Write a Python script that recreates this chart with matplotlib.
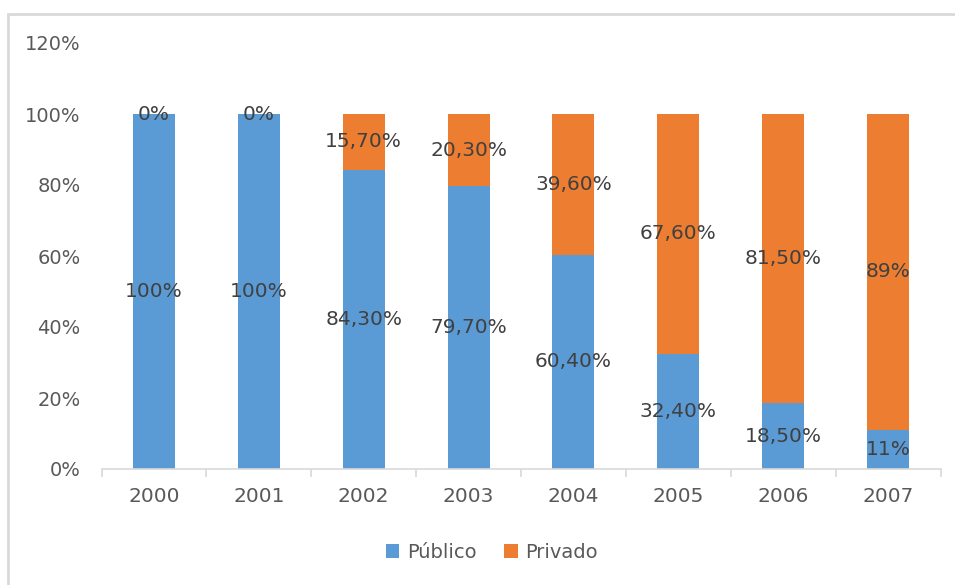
import matplotlib
matplotlib.use("Agg")
import matplotlib.pyplot as plt
from matplotlib.patches import Rectangle
import numpy as np

years = ["2000", "2001", "2002", "2003", "2004", "2005", "2006", "2007"]
publico = [100, 100, 84.3, 79.7, 60.4, 32.4, 18.5, 11]
privado = [0, 0, 15.7, 20.3, 39.6, 67.6, 81.5, 89]
publico_labels = ["100%", "100%", "84,30%", "79,70%", "60,40%", "32,40%", "18,50%", "11%"]
privado_labels = ["0%", "0%", "15,70%", "20,30%", "39,60%", "67,60%", "81,50%", "89%"]
yticks = [0, 20, 40, 60, 80, 100, 120]
ytick_labels = ["0%", "20%", "40%", "60%", "80%", "100%", "120%"]

blue = "#5B9BD5"
orange = "#ED7D31"
tick_color = "#595959"
label_color = "#404040"
axis_color = "#D9D9D9"

plt.rcParams['font.family'] = ['DejaVu Sans']

fig = plt.figure(figsize=(9.55, 5.85), dpi=100)
ax = fig.add_axes([101.5/955, 1-469/585, (940.5-101.5)/955, (469-43)/585])

x = np.arange(len(years))
w = 0.4
b1 = ax.bar(x, publico, width=w, color=blue, label="Público")
b2 = ax.bar(x, privado, width=w, bottom=publico, color=orange, label="Privado")

for i in range(len(years)):
    ax.text(x[i], publico[i] / 2, publico_labels[i], ha="center", va="center",
            fontsize=14.5, color=label_color)
    ax.text(x[i], publico[i] + privado[i] / 2, privado_labels[i], ha="center", va="center",
            fontsize=14.5, color=label_color)

ax.set_xlim(-0.5, len(years) - 0.5)
ax.set_ylim(0, 120)
ax.set_yticks(yticks)
ax.set_yticklabels(ytick_labels)
ax.set_xticks(x)
ax.set_xticklabels(years)
ax.tick_params(axis="y", length=0, pad=15, labelsize=14, labelcolor=tick_color)
ax.tick_params(axis="x", which="major", length=0, pad=13, labelsize=14.5, labelcolor=tick_color)
ax.set_xticks(np.arange(-0.5, len(years)), minor=True)
ax.tick_params(axis="x", which="minor", length=6, width=1.2, color=axis_color, direction="out")

for s in ["top", "right", "left"]:
    ax.spines[s].set_visible(False)
ax.spines["bottom"].set_color(axis_color)
ax.spines["bottom"].set_linewidth(1.2)

leg = fig.legend(handles=[b1, b2], labels=["Público", "Privado"], loc="center",
                 bbox_to_anchor=(492/955, 1-552/585), ncol=2, frameon=False,
                 fontsize=14, handlelength=0.7, handleheight=0.7, handletextpad=0.4,
                 columnspacing=1.4)
for t in leg.get_texts():
    t.set_color(tick_color)

fig.patches.append(Rectangle((8/955, -0.1), 1.2, 1 - 14/585 + 0.1, transform=fig.transFigure,
                             fill=False, edgecolor=axis_color, linewidth=2))

fig.savefig("out.png", dpi=100)
